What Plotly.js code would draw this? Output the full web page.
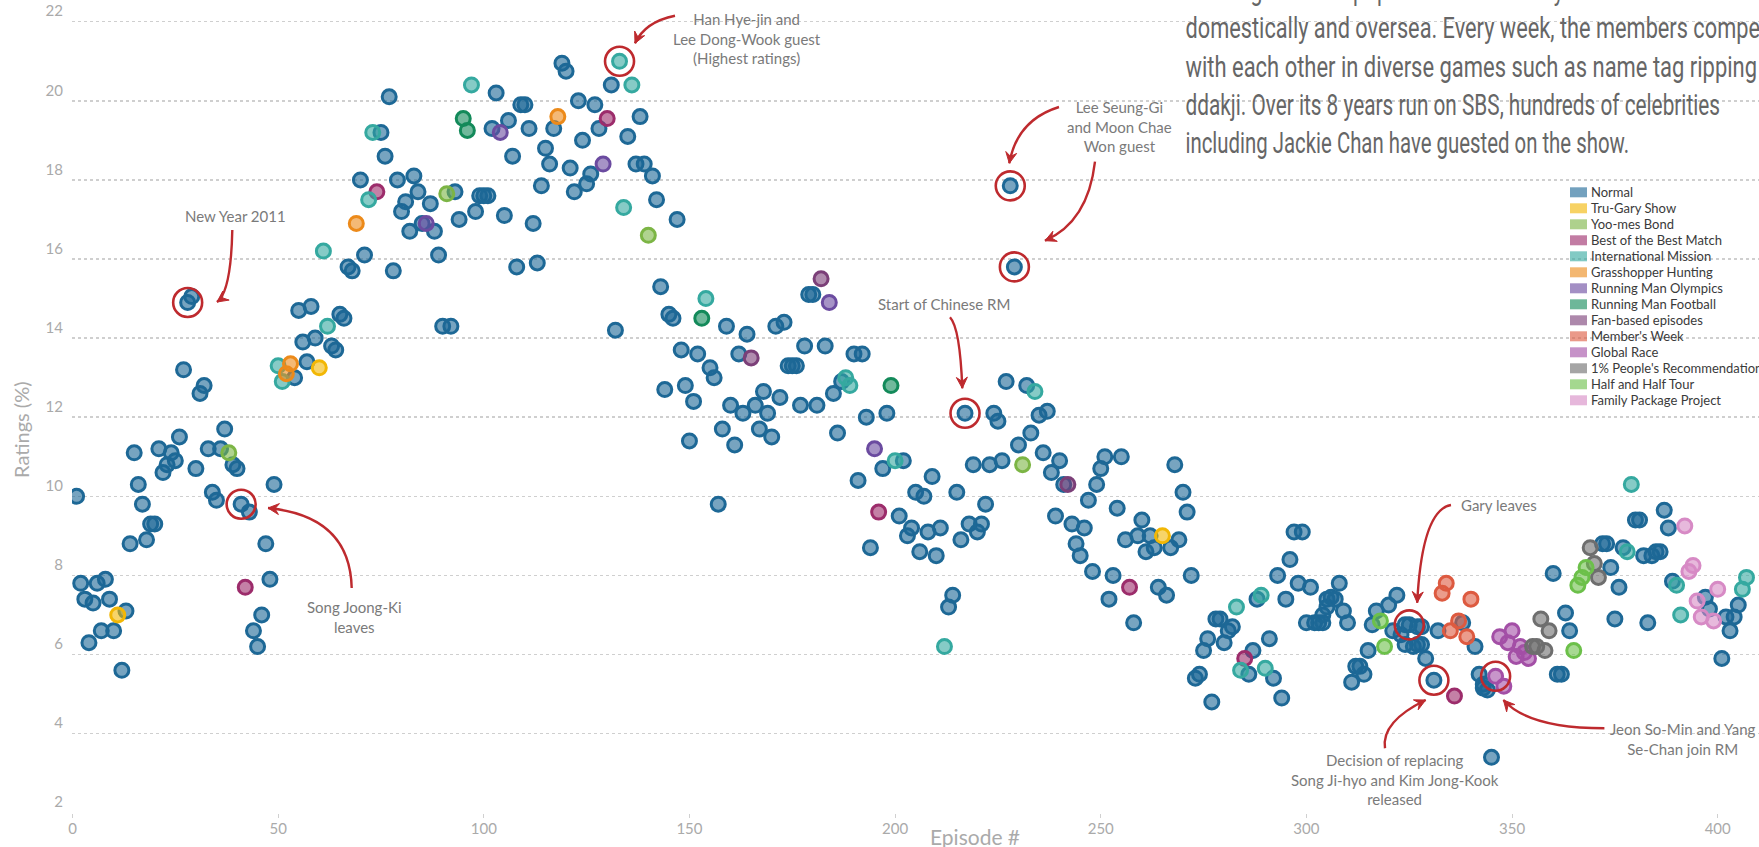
<!DOCTYPE html>
<html><head><meta charset="utf-8">
<script src="https://cdn.plot.ly/plotly-3.0.1.min.js"></script>
<style>html,body{margin:0;padding:0;background:#fff;overflow:hidden}#chart{width:1759px;height:847px}</style>
</head><body><div id="chart"></div>
<script>
// ---------------- DATA ----------------
const normalEp = [
1,2,3,4,5,6,7,8,9,10, 12,13,14,15,16,17,18,19,20,21, 22,23,24,25,26,27,28,29,30,31,
32,33,34,35,36,37,39,40,41,43, 44,45,46,47,48,49,54,55,56,57, 58,59,63,64,65,66,67,68,70,71,
75,76,77,78,79,80,81,82,83,84, 85,87,88,89,90,92,93,94,98,99, 100,101,102,103,105,106,107,108,109,110,
111,112,113,114,115,116,117,119,120,121, 122,123,124,125,126,127,128,131,132,135, 137,138,139,141,142,143,144,145,146,147,
148,149,150,151,152,155,156,157,158,159, 160,161,162,163,164,166,167,168,169,170, 171,172,173,174,175,176,177,178,179,180,
181,183,185,186,187,190,191,192,193,194, 197,198,201,202,203,204,205,206,207,208, 209,210,211,213,214,215,216,217,218,219,
220,221,222,223,224,225,226,227,228,229, 230,232,233,235,236,237,238,239,240,241, 243,244,245,246,247,248,249,250,251,252,
253,254,255,256,258,259,260,261,262,263, 264,266,267,268,269,270,271,272,273,274, 275,276,277,278,279,280,281,282,286,287,
288,291,292,293,294,295,296,297,298,299, 300,301,302,303,304,304,305,305,306,307, 308,309,310,311,312,313,314,315,316,317,
320,321,322,323,324,324,325,326,327,327, 328,328,329,331,332,338,341,342,343,343, 344,345,360,361,362,363,364,372,373,374,
375,376,377,380,381,382,383,384,385,386, 387,388,389,397,398,401,402,403,404,405];
const normalRating = [
10.0,7.8,7.4,6.3,7.3,7.8,6.6,7.9,7.4,6.6, 5.6,7.1,8.8,11.1,10.3,9.8,8.9,9.3,9.3,11.2, 10.6,10.8,11.1,10.9,11.5,13.2,14.9,15.05,10.7,12.6,
12.8,11.2,10.1,9.9,11.2,11.7,10.8,10.7,9.8,9.6, 6.6,6.2,7.0,8.8,7.9,10.3,13.0,14.7,13.9,13.4, 14.8,14.0,13.8,13.7,14.6,14.5,15.8,15.7,18.0,16.1,
19.2,18.6,20.1,15.7,18.0,17.2,17.45,16.7,18.1,17.7, 16.9,17.4,16.7,16.1,14.3,14.3,17.7,17.0,17.2,17.6, 17.6,17.6,19.3,20.2,17.1,19.5,18.6,15.8,19.9,19.9,
19.3,16.9,15.9,17.85,18.8,18.4,19.3,20.95,20.75,18.3, 17.7,20.0,19.0,17.9,18.15,19.9,19.3,20.4,14.2,19.1, 18.4,19.6,18.4,18.1,17.5,15.3,12.7,14.6,14.5,17.0,
13.7,12.8,11.4,12.4,13.6,13.25,13.0,9.8,11.7,14.3, 12.3,11.3,13.6,12.1,14.1,12.3,11.7,12.65,12.1,11.5, 14.3,12.5,14.4,13.3,13.3,13.3,12.3,13.8,15.1,15.1,
12.3,13.8,12.6,11.6,12.9,13.6,10.4,13.6,12.0,8.7, 10.7,12.1,9.5,10.9,9.0,9.2,10.1,8.6,10.0,9.1, 10.5,8.5,9.2,7.2,7.5,10.1,8.9,12.1,9.3,10.8,
9.1,9.3,9.8,10.8,12.1,11.9,10.9,12.9,17.85,15.8, 11.3,12.8,11.6,12.05,11.1,12.15,10.6,9.5,10.9,10.3, 9.3,8.8,8.5,9.2,9.9,8.1,10.3,10.7,11.0,7.4,
8.0,9.7,11.0,8.9,6.8,9.0,9.4,8.6,9.0,8.7, 7.7,7.5,8.7,10.8,8.9,10.1,9.6,8.0,5.4,5.5, 6.1,6.4,4.8,6.9,6.9,6.3,6.6,6.7,5.5,6.1,
7.4,6.4,5.4,8.0,4.9,7.4,8.4,9.1,7.8,9.1, 6.8,7.7,6.8,6.8,6.8,7.0,7.4,7.2,7.45,7.4, 7.8,7.1,6.8,5.3,5.7,5.7,5.5,6.1,6.75,7.1,
7.25,6.6,7.5,6.5,6.75,6.25,6.75,6.2,6.7,6.25, 6.7,6.25,5.9,5.35,6.6,6.8,6.2,5.5,5.15,5.25, 5.1,3.4,8.05,5.5,5.5,7.05,6.6,8.8,8.8,8.2,
6.9,7.7,8.7,9.4,9.4,8.5,6.8,8.5,8.6,8.6, 9.65,9.2,7.85,7.45,7.15,5.9,6.95,6.6,6.95,7.25];

const truGaryEp = [11, 60, 265];
const truGaryRating = [7.0, 13.25, 9.0];
const yoomesEp = [38, 91, 140, 231];
const yoomesRating = [11.1, 17.65, 16.6, 10.8];
const bestEp = [42, 74, 130, 196, 257, 285, 336];
const bestRating = [7.7, 17.7, 19.55, 9.6, 7.7, 5.9, 4.95];
const intlEp = [50, 51, 61, 62, 72, 73, 97, 133, 134, 136, 154, 188, 189, 200, 212, 234, 283, 284, 289, 290, 378, 379, 390, 391, 406, 407];
const intlRating = [13.3, 12.9, 16.2, 14.3, 17.5, 19.2, 20.4, 21.0, 17.3, 20.4, 15.0, 13.0, 12.8, 10.9, 6.2, 12.65, 7.2, 5.6, 7.5, 5.65, 8.6, 10.3, 7.75, 7.0, 7.65, 7.95];
const grasshopperEp = [52, 53, 69, 118];
const grasshopperRating = [13.1, 13.35, 16.9, 19.6];
const olympicsEp = [86, 104, 129, 184, 195];
const olympicsRating = [16.9, 19.2, 18.4, 14.9, 11.2];
const footballEp = [95, 96, 153, 199];
const footballRating = [19.55, 19.25, 14.5, 12.8];
const fanEp = [165, 182, 242];
const fanRating = [13.5, 15.5, 10.3];
const memberEp = [333, 334, 335, 337, 339, 340];
const memberRating = [7.55, 7.8, 6.6, 6.85, 6.45, 7.4];
const globalEp = [346, 347, 348, 349, 350, 351, 352, 353, 354];
const globalRating = [5.45, 6.45, 5.2, 6.3, 6.6, 5.95, 6.2, 6.05, 5.9];
const onePctEp = [355, 356, 357, 358, 359, 369, 370, 371];
const onePctRating = [6.2, 6.2, 6.9, 6.1, 6.6, 8.7, 8.3, 7.95];
const halfEp = [318, 319, 365, 366, 367, 368];
const halfRating = [6.85, 6.2, 6.1, 7.75, 7.95, 8.2];
const familyEp = [392, 393, 394, 395, 396, 399, 400];
const familyRating = [9.25, 8.1, 8.25, 7.35, 6.95, 6.85, 7.65];

const seriesNames = ["Normal","Tru-Gary Show","Yoo-mes Bond","Best of the Best Match","International Mission",
  "Grasshopper Hunting","Running Man Olympics","Running Man Football","Fan-based episodes","Member's Week",
  "Global Race","1% People's Recommendation","Half and Half Tour","Family Package Project"];
const seriesEpisodes = [normalEp, truGaryEp, yoomesEp, bestEp, intlEp, grasshopperEp, olympicsEp, footballEp, fanEp, memberEp, globalEp, onePctEp, halfEp, familyEp];
const seriesRatings = [normalRating, truGaryRating, yoomesRating, bestRating, intlRating, grasshopperRating, olympicsRating, footballRating, fanRating, memberRating, globalRating, onePctRating, halfRating, familyRating];
const seriesColors = ["#1d6896","#f2b705","#7cb545","#9c2c6b","#35a9a0","#ec8a1a","#6b4ba0","#138a5a","#7b3f78","#dd5a40","#a34fa6","#6e6e6e","#6cc04a","#d78ac5"];

const highlightEpisodes = [28, 41, 133, 217, 228, 229, 325, 331, 346];

const yTicks = [2,4,6,8,10,12,14,16,18,20,22];
const xTicks = [0,50,100,150,200,250,300,350,400];

const notes = [
  {text:"New Year 2011", X:235, Y:216},
  {text:"Song Joong-Ki<br>leaves", X:354, Y:617},
  {text:"Han Hye-jin and<br>Lee Dong-Wook guest<br>(Highest ratings)", X:747, Y:38},
  {text:"Lee Seung-Gi<br>and Moon Chae<br>Won guest", X:1119, Y:126},
  {text:"Start of Chinese RM", X:944, Y:304},
  {text:"Gary leaves", X:1499, Y:505},
  {text:"Decision of replacing<br>Song Ji-hyo and Kim Jong-Kook<br>released", X:1395, Y:779},
  {text:"Jeon So-Min and Yang<br>Se-Chan join RM", X:1682, Y:739}
];
const arrows = [
  [[232.3,230],[231,292],[217,302]],
  [[351.7,588],[350,516],[268,508]],
  [[675,15.7],[645,21.7],[635,43.3]],
  [[1059,107],[1017,120],[1009.3,163.3]],
  [[1095,161.7],[1088,222],[1045,240.7]],
  [[950,317.3],[960,328],[962.3,388.3]],
  [[1451,505],[1422,510],[1417.2,602.7]],
  [[1385,748.3],[1381,721.7],[1425.7,700]],
  [[1604.4,728.3],[1528.6,728.3],[1503.4,700]]
];
const introLines = [
  "Running Man is a popular Korean variety show that is loved both",
  "domestically and oversea. Every week, the members compete",
  "with each other in diverse games such as name tag ripping and",
  "ddakji. Over its 8 years run on SBS, hundreds of celebrities",
  "including Jackie Chan have guested on the show."
];
// visible part of each line and where that part ends in the picture (px)
const introFitPrefix = [null, "domestically and oversea. Every week, the members compe",
  "with each other in diverse games such as name tag ripping",
  "ddakji. Over its 8 years run on SBS, hundreds of celebrities",
  "including Jackie Chan have guested on the show."];
const introFitEnd = [null, 1760, 1757, 1720, 1629];

// ---------------- LAYOUT HELPERS ----------------
const L = 72, PW = 1759 - 72, PH = 813;
const X0 = 72.5, XS = 4.113, Y0 = 812.7, YS = 39.55;
const dx = X => (X - X0) / XS;
const dy = Y => 2 + (Y0 - Y) / YS;
const px = X => (X - L) / PW;
const py = Y => (PH - Y) / PH;
const RED = "#be2a2e";

function fillOf(hex, a) {
  const r = parseInt(hex.slice(1,3),16), g = parseInt(hex.slice(3,5),16), b = parseInt(hex.slice(5,7),16);
  return `rgba(${r},${g},${b},${a})`;
}

const traces = seriesNames.map((name, i) => ({
  type: "scatter", mode: "markers", name: name,
  x: seriesEpisodes[i], y: seriesRatings[i],
  marker: {size: 14, color: fillOf(seriesColors[i], 0.6), line: {color: seriesColors[i], width: 3}},
  hoverinfo: "x+y+name", showlegend: false
}));

const hx = [], hy = [];
highlightEpisodes.forEach(ep => {
  for (let i = 0; i < seriesEpisodes.length; i++) {
    const k = seriesEpisodes[i].indexOf(ep);
    if (k >= 0) { hx.push(ep); hy.push(seriesRatings[i][k]); break; }
  }
});
traces.push({type:"scatter", mode:"markers", x:hx, y:hy, hoverinfo:"skip", showlegend:false,
  marker:{size:29, color:"rgba(0,0,0,0)", line:{color:RED, width:2.6}}});

const shapes = [];
const annotations = [];

notes.forEach(n => annotations.push({x:px(n.X), y:py(n.Y), xref:"paper", yref:"paper", text:n.text, showarrow:false,
  xanchor:"center", yanchor:"middle", align:"center", font:{family:"Lato, sans-serif", size:15, color:"#7a7a7a"}}));

arrows.forEach(a => {
  const [S, C, E] = a;
  shapes.push({type:"path", xref:"x", yref:"y", layer:"above",
    path:`M${dx(S[0])},${dy(S[1])} Q${dx(C[0])},${dy(C[1])} ${dx(E[0])},${dy(E[1])}`,
    line:{color:RED, width:2.4}});
  let ux = E[0]-C[0], uy = E[1]-C[1]; const Ln = Math.hypot(ux,uy); ux/=Ln; uy/=Ln;
  const nx = -uy, ny = ux;
  const w1 = [E[0]-ux*11+nx*5.5, E[1]-uy*11+ny*5.5];
  const nt = [E[0]-ux*7, E[1]-uy*7];
  const w2 = [E[0]-ux*11-nx*5.5, E[1]-uy*11-ny*5.5];
  shapes.push({type:"path", xref:"x", yref:"y", layer:"above",
    path:`M${dx(E[0])},${dy(E[1])} L${dx(w1[0])},${dy(w1[1])} L${dx(nt[0])},${dy(nt[1])} L${dx(w2[0])},${dy(w2[1])} Z`,
    fillcolor:RED, line:{color:RED, width:1}});
});

// manual legend built from the series names / colours
seriesNames.forEach((name, i) => {
  const Yc = 192.3 + 16 * i;
  shapes.push({type:"rect", xref:"paper", yref:"paper", x0:px(1570), x1:px(1587), y0:py(Yc+5), y1:py(Yc-5),
    fillcolor:fillOf(seriesColors[i], 0.62), line:{width:0}});
  annotations.push({x:px(1589), y:py(Yc), xref:"paper", yref:"paper", text:name, showarrow:false,
    xanchor:"left", yanchor:"middle", font:{family:"Lato, sans-serif", size:13, color:"#3a3a3a"}});
});

// intro paragraph (one annotation per line)
const INTRO_LEFT = 1185.5, INTRO_SIZE = 30;
const introBase = [-0.5, 37.8, 76.1, 114.4, 152.7];
introLines.forEach((t, i) => annotations.push({x:px(INTRO_LEFT), y:py(introBase[i] - 10), xref:"paper", yref:"paper", text:t,
  showarrow:false, xanchor:"left", yanchor:"middle", align:"left",
  font:{family:"Roboto, sans-serif", size:INTRO_SIZE, color:"#666666"}}));

// axis titles
annotations.push({x:px(975), y:py(836), xref:"paper", yref:"paper", text:"Episode #", showarrow:false,
  xanchor:"center", yanchor:"middle", font:{family:"Lato, sans-serif", size:21, color:"#aaaaaa"}});
annotations.push({x:px(21), y:py(430), xref:"paper", yref:"paper", text:"Ratings (%)", showarrow:false, textangle:-90,
  xanchor:"center", yanchor:"middle", font:{family:"Lato, sans-serif", size:20, color:"#aaaaaa"}});

const layout = {
  width:1759, height:847,
  margin:{l:72, r:0, t:0, b:34, pad:0},
  paper_bgcolor:"#ffffff", plot_bgcolor:"#ffffff",
  showlegend:false,
  xaxis:{range:[dx(72), dx(1759)], tickvals:xTicks, ticktext:xTicks.map(String), showgrid:false, zeroline:false,
    showline:false, ticks:"outside", ticklen:4, tickcolor:"#d0d0d0", tickwidth:1, ticklabelstandoff:-2,
    tickfont:{family:"Lato, sans-serif", size:15, color:"#aaaaaa"}},
  yaxis:{range:[dy(813), dy(0)], tickvals:yTicks, ticktext:yTicks.map(String), showgrid:true, gridcolor:"#cfcfcf",
    gridwidth:1.5, griddash:"dot", zeroline:false, showline:false, ticks:"", ticklabelposition:"outside top",
    ticklabelstandoff:8, tickfont:{family:"Lato, sans-serif", size:15, color:"#aaaaaa"}},
  shapes:shapes, annotations:annotations
};

Plotly.newPlot("chart", traces, layout, {displayModeBar:false, staticPlot:true}).then(gd => {
  // condense the intro paragraph lines horizontally (narrow typeface look), keeping real text
  const texts = Array.from(gd.querySelectorAll("text.annotation-text"));
  const host = gd.getBoundingClientRect();
  const factors = [];
  const items = [];
  introLines.forEach((line, i) => {
    const t = texts.find(el => el.textContent === line);
    if (!t) return;
    const full = t.getComputedTextLength();
    let f = null;
    if (introFitPrefix[i]) {
      const n = introFitPrefix[i].length;
      const part = n >= line.length ? full : t.getSubStringLength(0, n);
      f = (introFitEnd[i] - INTRO_LEFT) / part;
      factors.push(f);
    }
    items.push({t, full, f});
  });
  const avg = factors.length ? factors.reduce((a, b) => a + b, 0) / factors.length : 0.72;
  items.forEach(({t, full, f}) => {
    const k = f || avg;
    t.setAttribute("textLength", (full * k).toFixed(1));
    t.setAttribute("lengthAdjust", "spacingAndGlyphs");
    const r = t.getBoundingClientRect();
    const shift = (host.left + INTRO_LEFT) - r.left;
    t.setAttribute("transform", `translate(${shift.toFixed(1)},0)`);
  });
});
</script>
</body></html>
